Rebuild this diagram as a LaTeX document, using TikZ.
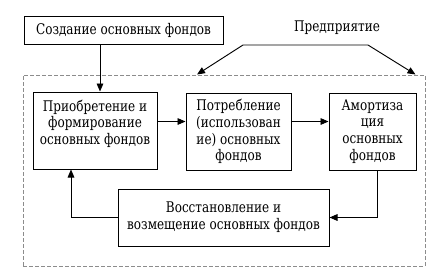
\documentclass[tikz,border=0pt]{standalone}
\usepackage{fontspec}
\setmainfont{DejaVu Serif}[FakeStretch=0.82]
\usetikzlibrary{arrows.meta, positioning}

\begin{document}
\begin{tikzpicture}[
    x=0.75pt, y=-0.75pt,
    box/.style={rectangle, draw=black, line width=0.75pt, align=center, inner sep=2pt, font=\fontsize{11}{12.6}\selectfont},
    arrow/.style={-{Triangle[length=6pt, width=5pt]}, line width=0.7pt},
    frame/.style={draw=black!45, dash pattern=on 3pt off 1.5pt, line width=0.75pt},
    label/.style={font=\fontsize{11}{12.6}\selectfont},
]
\useasboundingbox (0,0) rectangle (443,273);

% enterprise boundary
\node[frame, minimum width=301.5pt, minimum height=143.25pt] (firm) at (224,170.5) {};
\node[label] (ent) at (337,28) {Предприятие};
\coordinate (ent-l) at (243,45);
\coordinate (ent-r) at (368,45);

\node[box, minimum width=149.25pt, minimum height=21pt] (create) at (123.5,30) {Создание основных фондов};

\node[box, minimum width=93pt, minimum height=57.75pt] (acq) at (95,130.5) {Приобретение и\\формирование\\основных фондов\\\mbox{}};
\node[box, minimum width=78.75pt, minimum height=57.75pt] (use) at (238.5,131.5) {Потребление\\(использован\\ие) основных\\фондов};
\node[box, minimum width=65.25pt, minimum height=57.75pt] (amort) at (372.5,131.5) {Амортиза\\ция\\основных\\фондов};
\node[box, minimum width=158.25pt, minimum height=42.75pt] (restore) at (223.5,217.5) {Восстановление и\\возмещение основных фондов};

\draw[{Triangle[length=6pt, width=5pt]}-{Triangle[length=6pt, width=5pt]}, line width=0.7pt]
    ([xshift=-20.25pt]firm.north) -- (ent-l) -- (ent-r) -- ([xshift=-7.5pt]firm.north east);

\draw[arrow] ([xshift=3.75pt]acq.north |- create.south) -- ([xshift=3.75pt]acq.north);
\draw[arrow] ([yshift=6.75pt]acq.east) -- ([yshift=6.75pt]acq.east -| use.west);
\draw[arrow] ([yshift=7.5pt]use.east) -- ([yshift=7.5pt]use.east -| amort.west);
\draw[arrow] ([xshift=4pt]amort.south) |- (restore.east);
\draw[arrow] (restore.west) -| ([xshift=-18pt]acq.south);
\end{tikzpicture}
\end{document}
